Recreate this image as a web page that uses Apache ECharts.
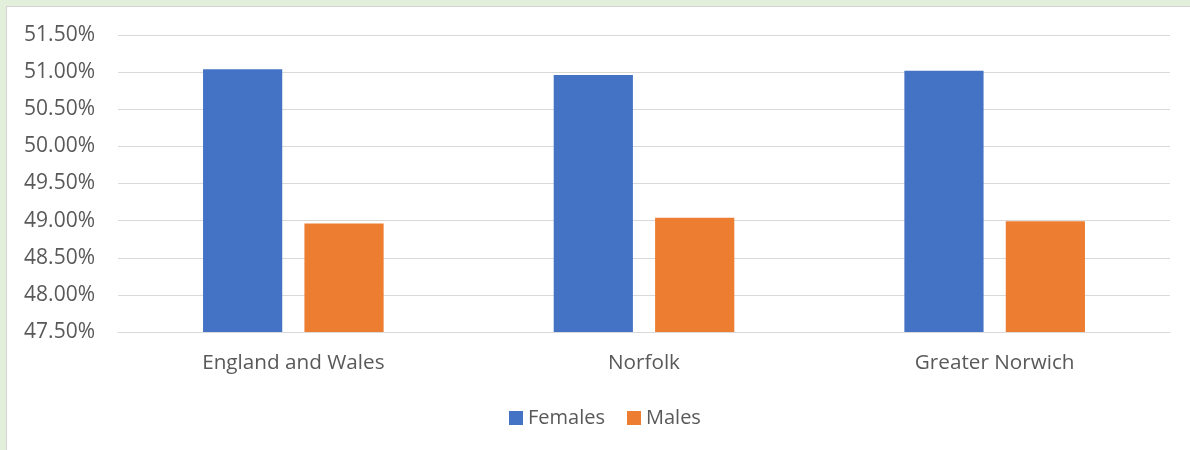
<!DOCTYPE html>
<html><head><meta charset="utf-8">
<script src="https://cdn.jsdelivr.net/npm/echarts@6/dist/echarts.min.js"></script>
<style>
html,body{margin:0;padding:0;width:1190px;height:450px;background:#e2efda;overflow:hidden;}
#panel{position:absolute;left:6px;top:6px;width:1184px;height:444px;background:#fff;border-left:1px solid #d4d4d4;border-top:1px solid #d4d4d4;}
#chart{position:absolute;left:0;top:0;width:1190px;height:450px;}
</style></head>
<body>
<div id="panel"></div>
<div id="chart"></div>
<script>
const categories = ["England and Wales", "Norfolk", "Greater Norwich"];
const females = [51.04, 50.96, 51.02];
const males = [48.96, 49.04, 48.99];
const seriesNames = ["Females", "Males"];

const chart = echarts.init(document.getElementById('chart'));
const font = "Open Sans";
chart.setOption({
  animation: false,
  color: ["#4472c4", "#ed7d31"],
  grid: {left: 118, right: 20, top: 35, bottom: 118, containLabel: false},
  legend: {
    data: seriesNames, top: 403, left: 504, itemWidth: 14, itemHeight: 14, itemGap: 22,
    icon: 'rect',
    textStyle: {fontFamily: font, fontSize: 20, color: '#595959'}
  },
  xAxis: {
    type: 'category', data: categories,
    axisLine: {lineStyle: {color: '#d9d9d9', width: 1}},
    axisTick: {show: false},
    axisLabel: {fontFamily: font, fontSize: 20.7, color: '#595959', margin: 21}
  },
  yAxis: {
    type: 'value', min: 47.5, max: 51.5, interval: 0.5,
    axisLine: {show: false}, axisTick: {show: false},
    splitLine: {lineStyle: {color: '#d9d9d9', width: 1}},
    axisLabel: {fontFamily: font, fontSize: 21, color: '#595959', margin: 23,
      formatter: v => v.toFixed(2) + '%'}
  },
  series: [
    {name: seriesNames[0], type: 'bar', data: females, barGap: '28%', barCategoryGap: '48.5%'},
    {name: seriesNames[1], type: 'bar', data: males}
  ]
});
</script>
</body></html>
